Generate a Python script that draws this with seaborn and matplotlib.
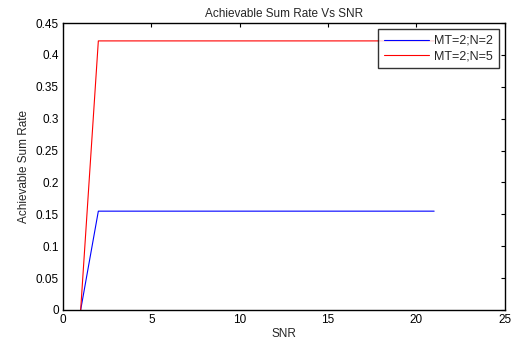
import matplotlib
matplotlib.use("Agg")
import matplotlib.pyplot as plt
import seaborn as sns
import pandas as pd

snr = list(range(1, 22))
rate_n2 = [0.0] + [0.155] * 20
rate_n5 = [0.0] + [0.422] * 20
labels = ["MT=2;N=2", "MT=2;N=5"]

df = pd.concat([
    pd.DataFrame({"SNR": snr, "rate": rate_n2, "series": labels[0]}),
    pd.DataFrame({"SNR": snr, "rate": rate_n5, "series": labels[1]}),
])

sns.set_style("white")
plt.rcParams["font.family"] = ["Liberation Sans", "DejaVu Sans"]
plt.rcParams["font.size"] = 8

fig = plt.figure(figsize=(5.15, 3.42), dpi=100)
ax = fig.add_axes([0.1223, 0.0936, 0.858, 0.839])
sns.lineplot(data=df, x="SNR", y="rate", hue="series", palette=["#0000ff", "#ff0000"],
             linewidth=0.8, ax=ax)
ax.set_xlim(0, 25)
ax.set_ylim(0, 0.45)
ax.set_xticks([0, 5, 10, 15, 20, 25])
ax.set_yticks([0, 0.05, 0.1, 0.15, 0.2, 0.25, 0.3, 0.35, 0.4, 0.45])
ax.set_yticklabels(["0", "0.05", "0.1", "0.15", "0.2", "0.25", "0.3", "0.35", "0.4", "0.45"])
ax.tick_params(direction="in", top=True, right=True, length=3, width=0.8, labelsize=8.5,
               colors="black", pad=3)
for s in ax.spines.values():
    s.set_color("black")
    s.set_linewidth(1.0)
ax.set_xlabel("SNR", fontsize=8.5, labelpad=1)
ax.set_ylabel("Achievable Sum Rate", fontsize=8.5)
ax.set_title("Achievable Sum Rate Vs SNR", fontsize=8.5, pad=4)
leg = ax.legend(loc="upper right", fontsize=9, frameon=True, fancybox=False,
                edgecolor="black", borderaxespad=0.5, handlelength=3.6,
                handletextpad=0.4, borderpad=0.45, labelspacing=0.3)
leg.get_frame().set_linewidth(1.0)
fig.savefig("out.png", dpi=100)
